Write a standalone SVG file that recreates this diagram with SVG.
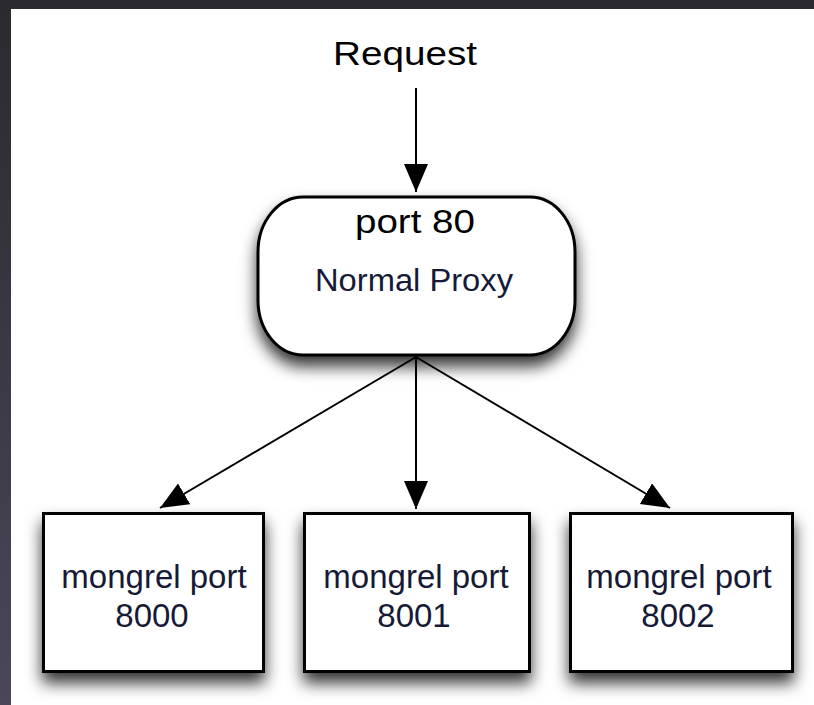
<svg xmlns="http://www.w3.org/2000/svg" width="814" height="705" viewBox="0 0 814 705">
<defs>
  <linearGradient id="bg" x1="0" y1="0" x2="0" y2="1">
    <stop offset="0" stop-color="#2a2a2f"/>
    <stop offset="1" stop-color="#4b4759"/>
  </linearGradient>
  <filter id="shadow" x="-20%" y="-20%" width="140%" height="170%">
    <feDropShadow dx="0" dy="10" stdDeviation="8" flood-color="#000" flood-opacity="0.8"/>
  </filter>
  <marker id="arrow" markerUnits="userSpaceOnUse" markerWidth="30" markerHeight="26" refX="28" refY="12" orient="auto">
    <path d="M0,0 L28,12 L0,24 Z" fill="#000"/>
  </marker>
  <style>
    .node { fill: #fff; stroke: #000; stroke-width: 3; filter: url(#shadow); }
    .lbl { font-family: "Liberation Sans", Arial, sans-serif; text-anchor: middle; }
    .big { font-size: 33px; fill: #000; }
    .small { font-size: 31px; fill: #161a36; }
    .mg { font-size: 33px; fill: #161a36; }
    .edge { stroke: #000; stroke-width: 2; fill: none; marker-end: url(#arrow); }
  </style>
</defs>
<rect x="0" y="0" width="814" height="705" fill="url(#bg)"/>
<rect x="11" y="9" width="803" height="696" fill="#fff"/>

<g id="request">
  <text class="lbl big" x="405" y="65" textLength="144" lengthAdjust="spacingAndGlyphs">Request</text>
</g>

<g id="proxy">
  <path class="node" d="M 303,197 H 530 A 45 55 0 0 1 575 252 V 300 A 45 55 0 0 1 530 355 H 303 A 45 55 0 0 1 258 300 V 252 A 45 55 0 0 1 303 197 Z"/>
  <text class="lbl big" x="415" y="233" textLength="120" lengthAdjust="spacingAndGlyphs">port 80</text>
  <text class="lbl small" x="414" y="291" textLength="198" lengthAdjust="spacingAndGlyphs">Normal Proxy</text>
</g>

<g id="m8000">
  <rect class="node" x="43.5" y="513.5" width="220" height="158"/>
  <text class="lbl mg" x="154" y="588">mongrel port</text>
  <text class="lbl mg" x="152" y="627">8000</text>
</g>

<g id="m8001">
  <rect class="node" x="304.5" y="513.5" width="225" height="158"/>
  <text class="lbl mg" x="416" y="588">mongrel port</text>
  <text class="lbl mg" x="414" y="627">8001</text>
</g>

<g id="m8002">
  <rect class="node" x="570.5" y="513.5" width="222" height="158"/>
  <text class="lbl mg" x="679" y="588">mongrel port</text>
  <text class="lbl mg" x="678" y="627">8002</text>
</g>

<g id="connectors">
  <line class="edge" x1="416" y1="88" x2="416" y2="192"/>
  <line class="edge" x1="416" y1="357" x2="160" y2="508"/>
  <line class="edge" x1="416" y1="357" x2="416" y2="509"/>
  <line class="edge" x1="416" y1="357" x2="670" y2="508"/>
</g>
</svg>
